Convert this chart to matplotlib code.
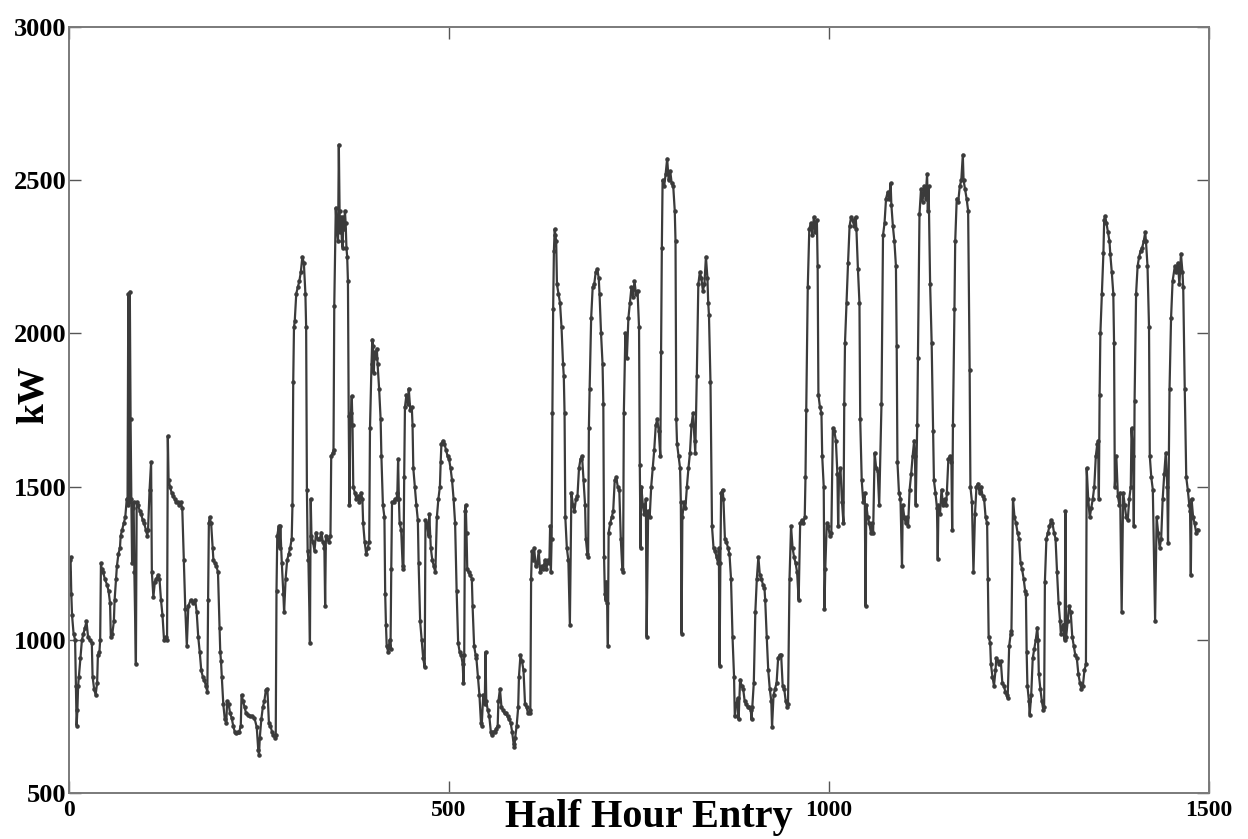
import matplotlib
matplotlib.use('Agg')
import matplotlib.pyplot as plt

# half-hour index and load (kW)
half_hour = [
    # 0 - 166
    0, 1, 2, 3, 4, 6, 8, 9, 10, 11, 12, 13, 15, 17, 19, 21, 23, 25, 27, 30,
    31, 33, 35, 37, 38, 40, 41, 42, 43, 45, 47, 50, 52, 54, 55, 57, 59, 60, 62, 63,
    65, 67, 68, 70, 72, 74, 76, 77, 78, 79, 80, 81, 82, 83, 84, 85, 86, 88, 89, 91,
    93, 95, 97, 99, 101, 103, 104, 106, 108, 109, 111, 113, 115, 117, 119, 121, 123, 125, 127, 129,
    130, 131, 133, 135, 137, 139, 141, 143, 145, 147, 149, 151, 153, 155, 157, 160, 163, 166,
    # 168 - 327
    168, 170, 172, 174, 176, 178, 180, 182, 183, 184, 185, 187, 189, 190, 192, 194, 196, 198, 199, 200,
    201, 203, 205, 207, 208, 210, 212, 214, 216, 218, 220, 222, 224, 226, 227, 229, 231, 233, 235, 238,
    241, 244, 247, 249, 250, 251, 253, 255, 257, 259, 261, 263, 265, 267, 269, 271, 272, 273, 274, 276,
    277, 278, 280, 282, 283, 285, 287, 289, 291, 293, 294, 295, 296, 297, 299, 301, 303, 305, 307, 309,
    311, 312, 313, 314, 315, 317, 318, 319, 321, 323, 325, 327,
    # 330 - 506
    330, 332, 334, 336, 337, 338, 340, 342, 344, 345, 347, 348, 349, 351, 352, 353, 354, 355, 356, 357,
    358, 359, 360, 361, 362, 363, 364, 365, 366, 367, 368, 369, 370, 371, 372, 373, 374, 376, 378, 380,
    382, 384, 386, 387, 389, 391, 393, 395, 396, 398, 399, 400, 401, 402, 404, 405, 406, 408, 410, 411,
    413, 415, 416, 417, 418, 420, 422, 423, 424, 425, 427, 429, 431, 432, 433, 434, 435, 437, 439, 440,
    441, 442, 444, 446, 447, 449, 451, 452, 453, 455, 457, 459, 460, 462, 464, 466, 468, 469, 471, 473,
    474, 476, 478, 480, 482, 484, 486, 488, 489, 490, 492, 494, 496, 498, 500, 502, 504, 506,
    # 508 - 673
    508, 510, 512, 514, 516, 518, 519, 520, 521, 522, 523, 524, 526, 528, 530, 531, 533, 535, 536, 538,
    540, 542, 543, 545, 547, 548, 549, 551, 553, 555, 556, 558, 560, 562, 564, 565, 567, 569, 571, 573,
    575, 577, 579, 581, 583, 585, 586, 587, 589, 591, 592, 594, 596, 598, 600, 602, 604, 606, 607, 608,
    609, 610, 612, 614, 616, 618, 620, 622, 624, 626, 628, 630, 632, 633, 634, 635, 636, 637, 638, 639,
    640, 641, 642, 644, 646, 648, 650, 651, 652, 653, 655, 657, 659, 661, 663, 665, 667, 669, 671, 673,
    # 675 - 846
    675, 677, 679, 680, 682, 683, 684, 685, 687, 689, 691, 693, 695, 697, 698, 700, 702, 703, 704, 705,
    706, 707, 708, 709, 710, 712, 714, 716, 718, 720, 722, 724, 726, 728, 729, 730, 732, 734, 736, 738,
    740, 742, 744, 746, 748, 750, 751, 752, 753, 755, 757, 759, 760, 762, 764, 766, 768, 770, 772, 774,
    776, 778, 779, 780, 781, 783, 785, 787, 789, 791, 793, 795, 797, 798, 799, 800, 802, 804, 805, 806,
    807, 809, 811, 813, 815, 817, 819, 821, 823, 824, 826, 828, 830, 832, 834, 836, 838, 840, 841, 842,
    844, 846,
    # 848 - 1013
    848, 850, 852, 854, 855, 856, 857, 858, 860, 861, 863, 865, 867, 869, 871, 873, 875, 876, 878, 880,
    881, 883, 885, 887, 889, 891, 893, 895, 897, 898, 899, 901, 903, 905, 907, 909, 911, 913, 915, 916,
    918, 920, 922, 924, 925, 927, 929, 931, 933, 935, 937, 939, 941, 943, 945, 946, 948, 950, 952, 954,
    956, 958, 960, 962, 964, 966, 968, 969, 970, 972, 974, 976, 978, 980, 982, 984, 985, 986, 988, 990,
    991, 993, 994, 995, 997, 999, 1001, 1003, 1005, 1007, 1009, 1011, 1012, 1013,
    # 1015 - 1190
    1015, 1017, 1019, 1020, 1021, 1023, 1025, 1027, 1029, 1031, 1033, 1035, 1036, 1038, 1040, 1041, 1043, 1045, 1047, 1048,
    1049, 1051, 1053, 1055, 1057, 1058, 1060, 1062, 1064, 1066, 1069, 1071, 1073, 1075, 1077, 1079, 1081, 1082, 1084, 1086,
    1088, 1089, 1090, 1092, 1094, 1096, 1097, 1099, 1101, 1103, 1104, 1106, 1108, 1110, 1112, 1113, 1114, 1116, 1117, 1119,
    1121, 1123, 1125, 1127, 1129, 1130, 1131, 1133, 1135, 1137, 1138, 1140, 1142, 1143, 1144, 1146, 1148, 1150, 1152, 1154,
    1155, 1157, 1159, 1161, 1162, 1163, 1165, 1166, 1168, 1170, 1172, 1174, 1176, 1177, 1179, 1181, 1183, 1185, 1186, 1188,
    1190,
    # 1192 - 1361
    1192, 1194, 1196, 1198, 1200, 1202, 1204, 1206, 1208, 1209, 1210, 1212, 1213, 1215, 1217, 1219, 1220, 1222, 1224, 1226,
    1228, 1230, 1232, 1234, 1235, 1237, 1239, 1240, 1242, 1244, 1246, 1248, 1250, 1252, 1254, 1256, 1258, 1259, 1260, 1261,
    1263, 1264, 1266, 1268, 1270, 1272, 1274, 1275, 1276, 1278, 1280, 1282, 1283, 1284, 1286, 1288, 1290, 1292, 1294, 1296,
    1298, 1300, 1302, 1304, 1305, 1308, 1310, 1311, 1312, 1314, 1316, 1318, 1320, 1322, 1324, 1326, 1328, 1330, 1332, 1334,
    1336, 1338, 1339, 1341, 1343, 1345, 1347, 1349, 1351, 1353, 1354, 1355, 1356, 1357, 1359, 1361,
    # 1362 - 1485
    1362, 1363, 1365, 1367, 1369, 1370, 1372, 1374, 1375, 1376, 1378, 1380, 1382, 1383, 1385, 1387, 1389, 1391, 1393, 1395,
    1397, 1398, 1400, 1401, 1402, 1404, 1406, 1408, 1410, 1412, 1414, 1416, 1417, 1419, 1421, 1422, 1424, 1426, 1429, 1431,
    1433, 1435, 1437, 1439, 1441, 1443, 1445, 1446, 1448, 1450, 1452, 1455, 1457, 1459, 1461, 1463, 1465, 1466, 1468, 1470,
    1472, 1474, 1475, 1476, 1477, 1479, 1481, 1483, 1485,
]

kw = [
    # 0 - 166
    1220, 1260, 1270, 1150, 1080, 1020, 1000, 850, 720, 770, 850, 880, 940, 1000, 1020, 1040, 1060, 1010, 1000, 990,
    880, 840, 820, 860, 950, 960, 1000, 1250, 1230, 1220, 1200, 1180, 1160, 1120, 1010, 1020, 1060, 1130, 1200, 1240,
    1280, 1300, 1340, 1360, 1380, 1400, 1460, 1440, 2130, 1450, 2136, 1720, 1460, 1250, 1430, 1450, 1220, 920, 1450, 1440,
    1420, 1410, 1390, 1380, 1360, 1340, 1360, 1490, 1580, 1220, 1140, 1190, 1200, 1210, 1200, 1130, 1080, 1000, 1010, 1000,
    1665, 1520, 1500, 1480, 1470, 1460, 1450, 1450, 1440, 1450, 1430, 1260, 1100, 980, 1110, 1130, 1120, 1130,
    # 168 - 327
    1090, 1010, 960, 900, 880, 870, 850, 830, 1130, 1380, 1400, 1380, 1300, 1260, 1250, 1240, 1220, 1040, 960, 930,
    880, 790, 740, 730, 800, 790, 760, 745, 720, 700, 695, 700, 700, 720, 820, 800, 780, 760, 755, 750,
    750, 745, 715, 640, 625, 680, 740, 780, 800, 836, 840, 730, 720, 700, 690, 680, 690, 1160, 1340, 1370,
    1300, 1370, 1250, 1150, 1090, 1200, 1260, 1280, 1300, 1330, 1440, 1840, 2020, 2040, 2130, 2150, 2170, 2200, 2250, 2230,
    2130, 2020, 1490, 1290, 1260, 990, 1460, 1340, 1320, 1290, 1350, 1330,
    # 330 - 506
    1330, 1350, 1320, 1300, 1110, 1340, 1330, 1320, 1340, 1600, 1610, 1620, 2090, 2410, 2350, 2330, 2300, 2616, 2400, 2330,
    2380, 2300, 2280, 2380, 2340, 2400, 2360, 2280, 2250, 2170, 1730, 1440, 1700, 1740, 1796, 1700, 1500, 1480, 1460, 1470,
    1450, 1480, 1460, 1380, 1320, 1280, 1300, 1320, 1690, 1900, 1980, 1960, 1870, 1940, 1920, 1950, 1900, 1820, 1720, 1600,
    1440, 1400, 1150, 1050, 980, 960, 1000, 970, 1230, 1450, 1450, 1460, 1460, 1480, 1590, 1460, 1380, 1360, 1240, 1230,
    1530, 1760, 1800, 1770, 1820, 1750, 1760, 1700, 1560, 1500, 1440, 1390, 1250, 1060, 1000, 940, 910, 1390, 1380, 1340,
    1410, 1300, 1260, 1240, 1220, 1400, 1460, 1500, 1580, 1640, 1650, 1640, 1620, 1600, 1590, 1560, 1520, 1460,
    # 508 - 673
    1380, 1160, 990, 960, 950, 920, 860, 950, 1420, 1440, 1350, 1230, 1220, 1210, 1200, 1110, 980, 950, 940, 880,
    820, 730, 720, 820, 790, 960, 800, 770, 750, 700, 690, 700, 700, 710, 720, 800, 840, 780, 770, 760,
    760, 750, 740, 730, 700, 660, 650, 680, 720, 780, 880, 950, 930, 900, 790, 780, 760, 760, 770, 1200,
    1290, 1260, 1300, 1240, 1250, 1290, 1220, 1240, 1230, 1260, 1230, 1260, 1250, 1370, 1220, 1330, 1740, 2080, 2270, 2340,
    2320, 2300, 2160, 2130, 2100, 2020, 1900, 1860, 1740, 1400, 1300, 1260, 1050, 1480, 1440, 1420, 1460, 1470, 1560, 1590,
    # 675 - 846
    1600, 1520, 1440, 1330, 1280, 1270, 1690, 1820, 2050, 2150, 2160, 2200, 2210, 2180, 2130, 2000, 1900, 1770, 1270, 1150,
    1130, 1190, 1120, 980, 1350, 1380, 1400, 1420, 1520, 1530, 1500, 1490, 1330, 1230, 1220, 1740, 2000, 1920, 2050, 2100,
    2150, 2120, 2170, 2130, 2140, 2020, 1570, 1300, 1500, 1440, 1410, 1460, 1010, 1420, 1400, 1500, 1560, 1620, 1700, 1720,
    1680, 1600, 1940, 2280, 2500, 2480, 2520, 2570, 2500, 2530, 2490, 2480, 2400, 2300, 1720, 1640, 1600, 1560, 1450, 1020,
    1400, 1450, 1430, 1500, 1560, 1610, 1700, 1740, 1650, 1610, 1860, 2160, 2200, 2180, 2140, 2160, 2250, 2180, 2100, 2060,
    1840, 1370,
    # 848 - 1013
    1300, 1290, 1270, 1250, 1300, 916, 1250, 1480, 1490, 1460, 1330, 1320, 1300, 1280, 1200, 1010, 880, 750, 790, 810,
    740, 870, 850, 840, 800, 790, 780, 780, 770, 740, 780, 860, 1090, 1200, 1270, 1210, 1200, 1180, 1170, 1130,
    1010, 900, 840, 800, 716, 820, 840, 860, 940, 950, 950, 850, 840, 800, 780, 790, 1200, 1370, 1300, 1270,
    1250, 1220, 1130, 1380, 1390, 1380, 1400, 1530, 1750, 2150, 2340, 2360, 2320, 2380, 2330, 2370, 2220, 1800, 1760, 1740,
    1600, 1500, 1100, 1230, 1380, 1370, 1340, 1350, 1690, 1680, 1650, 1540, 1370, 1520,
    # 1015 - 1190
    1560, 1450, 1380, 1770, 1970, 2100, 2230, 2350, 2380, 2370, 2350, 2380, 2340, 2210, 2100, 1720, 1520, 1450, 1480, 1110,
    1440, 1400, 1380, 1350, 1380, 1350, 1610, 1560, 1550, 1440, 1770, 2320, 2360, 2440, 2460, 2440, 2490, 2420, 2350, 2300,
    2220, 1960, 1580, 1480, 1460, 1240, 1440, 1400, 1380, 1400, 1370, 1490, 1540, 1600, 1650, 1600, 1440, 1700, 1920, 2390,
    2470, 2430, 2480, 2440, 2520, 2400, 2480, 2160, 1970, 1680, 1520, 1480, 1430, 1265, 1440, 1410, 1490, 1440, 1460, 1440,
    1480, 1590, 1600, 1580, 1360, 1700, 2080, 2300, 2440, 2430, 2480, 2500, 2583, 2500, 2470, 2440, 2400, 1880, 1500, 1450,
    1220,
    # 1192 - 1361
    1410, 1500, 1510, 1480, 1500, 1470, 1460, 1400, 1380, 1200, 1010, 990, 920, 880, 850, 900, 940, 930, 920, 930,
    860, 850, 830, 820, 810, 980, 1020, 1030, 1460, 1400, 1380, 1350, 1330, 1250, 1230, 1200, 1160, 1150, 960, 850,
    800, 756, 820, 940, 970, 1000, 1040, 1000, 890, 840, 800, 770, 780, 1190, 1330, 1350, 1370, 1390, 1380, 1350,
    1330, 1220, 1120, 1060, 1020, 1050, 1000, 1420, 1010, 1060, 1110, 1090, 1010, 980, 950, 940, 890, 860, 840, 850,
    900, 920, 1560, 1460, 1400, 1430, 1460, 1500, 1600, 1640, 1650, 1460, 1800, 2000, 2130, 2263,
    # 1362 - 1485
    2370, 2383, 2360, 2330, 2300, 2260, 2200, 2130, 1970, 1500, 1600, 1470, 1440, 1480, 1090, 1480, 1440, 1400, 1390, 1460,
    1500, 1690, 1600, 1370, 1780, 2130, 2220, 2250, 2270, 2280, 2300, 2330, 2300, 2220, 2020, 1600, 1530, 1490, 1063, 1400,
    1350, 1300, 1330, 1460, 1540, 1610, 1500, 1316, 1820, 2050, 2170, 2220, 2200, 2230, 2160, 2260, 2200, 2150, 1820, 1530,
    1490, 1440, 1420, 1210, 1460, 1400, 1380, 1350, 1360,
]

x_ticks = [0, 500, 1000, 1500]
y_ticks = [500, 1000, 1500, 2000, 2500, 3000]

assert len(half_hour) == len(kw), (len(half_hour), len(kw))

plt.rcParams['font.family'] = ['Liberation Serif', 'DejaVu Serif']
plt.rcParams['font.weight'] = 'bold'

fig = plt.figure(figsize=(12.48, 8.39), dpi=100)
ax = fig.add_axes([0.0553, 0.0548, 0.9135, 0.913])

ax.plot(half_hour, kw, color='#3b3b3b', linewidth=1.6, marker='.', markersize=4.5)

ax.set_xlim(0, 1500)
ax.set_ylim(500, 3000)
ax.set_xticks(x_ticks)
ax.set_yticks(y_ticks)
ax.tick_params(direction='in', length=8.5, width=1.0, color='#555555',
               top=True, right=True)
ax.tick_params(axis='y', labelsize=19, pad=2)
ax.tick_params(axis='x', labelsize=17, pad=5)
for lab in ax.get_xticklabels() + ax.get_yticklabels():
    lab.set_fontweight('bold')
for sp in ax.spines.values():
    sp.set_color('#7a7a7a')
    sp.set_linewidth(1.4)

fig.text(649 / 1248, 0.004, 'Half Hour Entry', ha='center', va='bottom',
         fontsize=29, fontweight='bold')
fig.text(33 / 1248, 1 - 395 / 839, 'kW', rotation=90, ha='center', va='center',
         fontsize=27, fontweight='bold')

fig.savefig('out.png', dpi=100)
